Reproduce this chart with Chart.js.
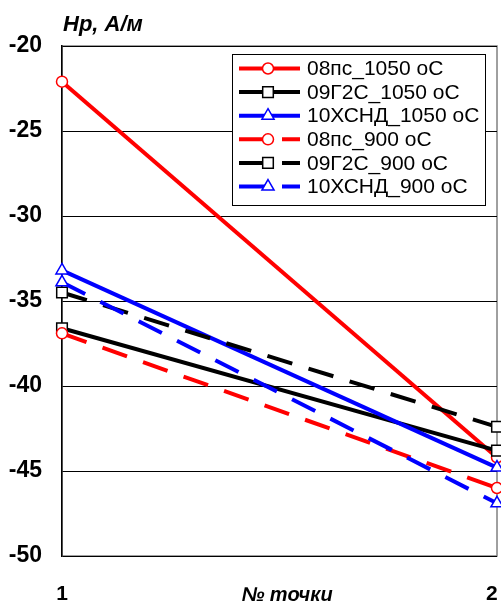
<!DOCTYPE html>
<html>
<head>
<meta charset="utf-8">
<script src="https://cdn.jsdelivr.net/npm/chart.js@4"></script>
<style>
  body { margin: 0; background: white; }
  #wrap { width: 501px; height: 605px; }
</style>
</head>
<body>
<div id="wrap"><canvas id="grafico"></canvas></div>
<script>
const puntosX = [1, 2]
const nombres = ['08пс_1050 оС', '09Г2С_1050 оС', '10ХСНД_1050 оС', '08пс_900 оС', '09Г2С_900 оС', '10ХСНД_900 оС']
const s08pc1050 = [-22.1, -44.2]
const s09g2s1050 = [-36.6, -43.8]
const s10xsnd1050 = [-33.2, -44.8]
const s08pc900 = [-36.9, -46.0]
const s09g2s900 = [-34.5, -42.4]
const s10xsnd900 = [-33.9, -46.9]
const yTicks = [-50, -45, -40, -35, -30, -25, -20]

const colores = ['#ff0000', '#000000', '#0000ff', '#ff0000', '#000000', '#0000ff']
const marcas = ['circle', 'rect', 'triangle', 'circle', 'rect', 'triangle']
const radios = { circle: 5.5, rect: 7.5, triangle: 7 }
const guion = [26, 17]
const valores = [s08pc1050, s09g2s1050, s10xsnd1050, s08pc900, s09g2s900, s10xsnd900]

const datasets = valores.map((serie, i) => {
    return {
        label: nombres[i],
        data: serie.map((v, j) => ({ x: puntosX[j], y: v })),
        borderColor: colores[i],
        backgroundColor: '#ffffff',
        borderWidth: 4,
        borderDash: i >= 3 ? guion : [],
        pointStyle: marcas[i],
        pointRadius: radios[marcas[i]],
        pointBorderWidth: 1.5,
        pointBorderColor: colores[i],
        pointBackgroundColor: '#ffffff',
        tension: 0,
        clip: false,
        order: 6 - i
    }
})

const textos = {
    id: 'textos',
    beforeDraw(chart) {
        const a = chart.chartArea
        const ctx = chart.ctx
        ctx.save()
        ctx.strokeStyle = '#808080'
        ctx.lineWidth = 1.5
        ctx.strokeRect(a.left, a.top, a.right - a.left, a.bottom - a.top)
        ctx.restore()
    },
    afterDraw(chart) {
        const ctx = chart.ctx
        ctx.save()
        ctx.fillStyle = '#000'
        ctx.textBaseline = 'middle'
        ctx.font = 'italic bold 22px "Liberation Sans", Arial, sans-serif'
        ctx.textAlign = 'left'
        ctx.fillText('Hp, A/м', 63, 25)
        ctx.font = 'italic bold 20px "Liberation Sans", Arial, sans-serif'
        ctx.textAlign = 'center'
        ctx.fillText('№ точки', 287, 595)

        // leyenda
        const bx = 232, by = 54, bw = 253, bh = 151
        ctx.fillStyle = '#fff'
        ctx.fillRect(bx, by, bw, bh)
        ctx.strokeStyle = '#000'
        ctx.lineWidth = 1
        ctx.strokeRect(bx + 0.5, by + 0.5, bw, bh)
        chart.data.datasets.forEach((ds, i) => {
            const y = 68.5 + i * 23.6
            ctx.save()
            ctx.strokeStyle = ds.borderColor
            ctx.lineWidth = 4
            ctx.setLineDash(ds.borderDash)
            ctx.beginPath()
            ctx.moveTo(239, y)
            ctx.lineTo(300, y)
            ctx.stroke()
            ctx.restore()
            ctx.save()
            ctx.fillStyle = '#fff'
            ctx.strokeStyle = ds.borderColor
            ctx.lineWidth = 1.5
            Chart.helpers.drawPoint(ctx, { pointStyle: ds.pointStyle, radius: ds.pointRadius, borderWidth: 1.5, rotation: 0 }, 268, y)
            ctx.restore()
            ctx.fillStyle = '#000'
            ctx.font = '21px "Liberation Sans", Arial, sans-serif'
            ctx.textAlign = 'left'
            ctx.fillText(ds.label, 307, y + 1)
        })
        ctx.restore()
    }
}

const config = {
    type: 'line',
    data: { datasets },
    options: {
        responsive: true,
        maintainAspectRatio: false,
        animation: false,
        layout: { autoPadding: false, padding: { top: 46, right: 4, left: 0, bottom: 0 } },
        plugins: { legend: { display: false }, tooltip: { enabled: false } },
        scales: {
            x: {
                type: 'linear',
                min: 1,
                max: 2,
                afterFit: (s) => { s.height = 49; s.paddingLeft = 0; s.paddingRight = 0 },
                afterBuildTicks: (s) => { s.ticks = puntosX.map(v => ({ value: v })) },
                grid: { display: false, drawTicks: false },
                border: { display: false },
                ticks: {
                    padding: 26,
                    color: '#000',
                    callback: (v) => v === 2 ? '2\u2002' : String(v),
                    font: { family: '"Liberation Sans", Arial', size: 21, weight: 'bold' }
                }
            },
            y: {
                min: -50,
                max: -20,
                afterFit: (s) => { s.width = 62; s.paddingTop = 0; s.paddingBottom = 0 },
                afterBuildTicks: (s) => { s.ticks = yTicks.map(v => ({ value: v })) },
                grid: { color: '#000', lineWidth: 1, drawTicks: false },
                border: { color: '#000', width: 1.5 },
                ticks: {
                    padding: 20,
                    color: '#000',
                    font: { family: '"Liberation Sans", Arial', size: 23, weight: 'bold' }
                }
            }
        }
    },
    plugins: [textos]
}

new Chart(document.querySelector('#grafico'), config)
</script>
</body>
</html>
